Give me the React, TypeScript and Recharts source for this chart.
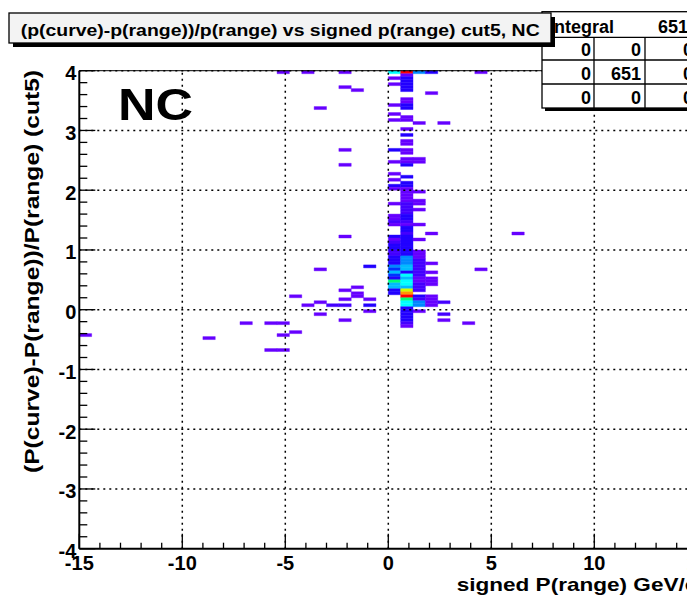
import React from "react";
import {
  ComposedChart, XAxis, YAxis, ReferenceArea, ReferenceLine, Scatter
} from "recharts";

const FONT = '"Liberation Sans", Arial, Helvetica, sans-serif';

// bin sizes of the 2D histogram
const binW = 0.6;
const binH = 0.05;

// [x low edge, y low edge, entries]
const cells: [number, number, number][] = [
  // scattered entries, negative side
  [-15, -0.45, 1], [-9, -0.5, 1], [-7.2, -0.25, 1],
  [-6, -0.25, 1], [-5.4, -0.25, 1], [-5.4, -0.45, 1], [-4.8, -0.4, 1],
  [-6, -0.7, 1], [-5.4, -0.7, 1], [-4.8, 0.2, 1], [-4.2, 0.05, 1],
  [-5.4, 3.95, 1], [-4.2, 3.95, 1], [-2.4, 3.95, 1],
  [-2.4, 3.7, 1], [-1.8, 3.65, 1], [-3.6, 3.35, 1],
  [-2.4, 2.65, 1], [-2.4, 2.4, 1], [-2.4, 1.2, 1],
  [-3.6, 0.65, 1], [-1.2, 0.7, 4],
  [-1.8, 0.35, 1], [-2.4, 0.3, 1], [-1.8, 0.25, 1], [-1.8, 0.2, 1],
  [-2.4, 0.15, 1], [-1.2, 0.15, 1], [-3.6, 0.1, 1],
  [-3, 0.05, 2], [-2.4, 0.05, 3], [-1.2, 0.05, 4],
  [-1.2, -0.05, 1], [-3.6, -0.1, 1], [-2.4, -0.2, 1],
  // column 0.0
  [0, 3.95, 12], [0, 3.85, 1], [0, 3.75, 1], [0, 3.4, 1], [0, 3.25, 1], [0, 3.15, 1],
  [0, 2.65, 4], [0, 2.45, 1], [0, 2.25, 1], [0, 2.15, 1], [0, 2.05, 4], [0, 2.0, 1],
  [0, 1.75, 1], [0, 1.55, 1], [0, 1.5, 1], [0, 1.45, 2], [0, 1.4, 1],
  [0, 1.2, 4], [0, 1.15, 1], [0, 1.1, 2], [0, 1.05, 4], [0, 1.0, 4],
  [0, 0.95, 3], [0, 0.9, 3], [0, 0.85, 4], [0, 0.8, 4], [0, 0.75, 5],
  [0, 0.7, 8], [0, 0.65, 6], [0, 0.6, 10], [0, 0.55, 6], [0, 0.5, 4],
  [0, 0.45, 13], [0, 0.4, 10], [0, 0.35, 9], [0, 0.3, 4], [0, 0.25, 4],
  // column 0.6
  [0.6, 3.95, 18], [0.6, 3.9, 1], [0.6, 3.85, 4], [0.6, 3.8, 4], [0.6, 3.75, 4],
  [0.6, 3.7, 4], [0.6, 3.65, 4], [0.6, 3.5, 1], [0.6, 3.45, 1], [0.6, 3.4, 4],
  [0.6, 3.35, 4], [0.6, 3.2, 1], [0.6, 3.15, 1], [0.6, 3.0, 1], [0.6, 2.9, 4],
  [0.6, 2.8, 1], [0.6, 2.75, 1], [0.6, 2.65, 1], [0.6, 2.6, 1], [0.6, 2.5, 1],
  [0.6, 2.45, 1], [0.6, 2.4, 4], [0.6, 2.2, 4], [0.6, 2.1, 4], [0.6, 2.05, 4],
  [0.6, 2.0, 1], [0.6, 1.95, 1], [0.6, 1.9, 1], [0.6, 1.85, 1], [0.6, 1.8, 1],
  [0.6, 1.75, 3], [0.6, 1.7, 3], [0.6, 1.65, 3], [0.6, 1.6, 3], [0.6, 1.55, 4],
  [0.6, 1.5, 4], [0.6, 1.45, 2], [0.6, 1.4, 1], [0.6, 1.35, 4], [0.6, 1.3, 4],
  [0.6, 1.25, 3], [0.6, 1.2, 4], [0.6, 1.15, 4], [0.6, 1.1, 4], [0.6, 1.05, 4],
  [0.6, 1.0, 5], [0.6, 0.95, 5], [0.6, 0.9, 5], [0.6, 0.85, 8], [0.6, 0.8, 8],
  [0.6, 0.75, 8], [0.6, 0.7, 10], [0.6, 0.65, 10], [0.6, 0.6, 5], [0.6, 0.55, 12],
  [0.6, 0.5, 10], [0.6, 0.45, 12], [0.6, 0.4, 12], [0.6, 0.35, 10], [0.6, 0.3, 15],
  [0.6, 0.25, 16], [0.6, 0.2, 18], [0.6, 0.15, 13], [0.6, 0.1, 12], [0.6, 0.05, 11],
  [0.6, 0, 4], [0.6, -0.05, 4], [0.6, -0.1, 4], [0.6, -0.15, 4], [0.6, -0.2, 4],
  [0.6, -0.25, 3], [0.6, -0.3, 1],
  // column 1.2
  [1.2, 3.95, 8], [1.2, 3.1, 1], [1.2, 2.5, 1], [1.2, 2.45, 1], [1.2, 1.95, 1],
  [1.2, 1.8, 1], [1.2, 1.75, 1], [1.2, 1.65, 1], [1.2, 1.4, 1], [1.2, 1.15, 1],
  [1.2, 0.95, 1], [1.2, 0.9, 1], [1.2, 0.85, 1], [1.2, 0.8, 3], [1.2, 0.75, 3],
  [1.2, 0.7, 2], [1.2, 0.65, 2], [1.2, 0.6, 2], [1.2, 0.55, 2], [1.2, 0.5, 1],
  [1.2, 0.45, 1], [1.2, 0.4, 3], [1.2, 0.35, 3], [1.2, 0.3, 3], [1.2, 0.2, 4],
  [1.2, 0.15, 3], [1.2, 0.1, 8], [1.2, 0.05, 8], [1.2, -0.05, 1],
  // column 1.8
  [1.8, 3.95, 4], [1.8, 3.6, 1], [1.8, 1.25, 1], [1.8, 0.75, 1], [1.8, 0.6, 1],
  [1.8, 0.5, 1], [1.8, 0.45, 1], [1.8, 0.4, 1], [1.8, 0.2, 1], [1.8, 0.15, 1],
  [1.8, 0.1, 1], [1.8, 0.05, 1],
  // positive side
  [2.4, 3.1, 1], [2.4, 0.1, 3], [2.4, -0.1, 3], [2.4, -0.2, 1],
  [3.6, -0.25, 1], [4.2, 0.65, 1], [4.2, 3.95, 1], [6, 1.25, 1],
];

const palette = [
  "#6600ff", "#4400ff", "#2200ff", "#0033ff", "#0088ff", "#00bbff",
  "#00ffff", "#00ff77", "#ccff00", "#ff9900", "#ff0000",
];
const maxCount = 18;
const colorFor = (n: number) =>
  palette[Math.round(((n - 1) / (maxCount - 1)) * (palette.length - 1))];

const xLabels = [-15, -10, -5, 0, 5, 10, 15];
const yLabels = [-4, -3, -2, -1, 0, 1, 2, 3, 4];
const xGrid = [-10, -5, 0, 5, 10];
const yGrid = [-3, -2, -1, 0, 1, 2, 3, 4];

const xTicks: number[] = [];
for (let v = -15; v <= 15; v++) xTicks.push(v);
const yTicks: number[] = [];
for (let k = -20; k <= 20; k++) yTicks.push(Math.round(k * 2) / 10);

const points = cells.map(([x, y, n]) => ({ x: x + binW / 2, y: y + binH / 2, n }));

const XTick = (props: any) => {
  const { x, y, payload } = props;
  const major = xLabels.includes(payload.value);
  return (
    <g>
      <line x1={x} x2={x} y1={y} y2={y - (major ? 15 : 6)} stroke="#000" strokeWidth={1.3} />
      {major && (
        <text x={x} y={y + 21.5} textAnchor="middle" fontFamily={FONT} fontWeight="bold" fontSize={20} fill="#000">
          {payload.value}
        </text>
      )}
    </g>
  );
};

const YTick = (props: any) => {
  const { x, y, payload } = props;
  const major = yLabels.includes(payload.value);
  return (
    <g>
      <line x1={x} x2={x + (major ? 16 : 8)} y1={y} y2={y} stroke="#000" strokeWidth={1.3} />
      {major && (
        <text x={x - 3} y={y + 9.5} textAnchor="end" fontFamily={FONT} fontWeight="bold" fontSize={20} fill="#000">
          {payload.value}
        </text>
      )}
    </g>
  );
};

const txt = { fontFamily: FONT, fontWeight: "bold" as const, fill: "#000" };

export default function App() {
  return (
    <div style={{ position: "fixed", left: 0, top: 0, width: 687, height: 605, overflow: "hidden", background: "#fff" }}>
      <svg width={687} height={605} style={{ position: "absolute", left: 0, top: 0 }}>
        <text x={118} y={120} fontSize={45} textLength={75} lengthAdjust="spacingAndGlyphs" {...txt}>NC</text>
      </svg>
      <div style={{ position: "absolute", left: 0, top: 0 }}>
        <ComposedChart
          width={720}
          height={605}
          data={points}
          margin={{ top: 70.7, right: 22.7, bottom: 0, left: 0 }}
        >
          <XAxis
            type="number" dataKey="x" domain={[-15, 15]} ticks={xTicks} interval={0}
            height={56.3} tickSize={0} tickMargin={0} tickLine={false} tick={<XTick />}
            axisLine={{ stroke: "#000", strokeWidth: 2 }} allowDataOverflow
          />
          <YAxis
            type="number" dataKey="y" domain={[-4, 4]} ticks={yTicks} interval={0}
            width={79.3} tickSize={0} tickMargin={0} tickLine={false} tick={<YTick />}
            axisLine={{ stroke: "#000", strokeWidth: 2 }} allowDataOverflow
          />
          {cells.map(([x, y, n], i) => (
            <ReferenceArea
              key={"c" + i}
              x1={x} x2={x + binW} y1={y} y2={y + binH}
              fill={colorFor(n)} fillOpacity={1}
              stroke={colorFor(n)} strokeWidth={0.4}
            />
          ))}
          <ReferenceLine y={4} stroke="#000" strokeWidth={1} />
          {xGrid.map((v) => (
            <ReferenceLine key={"gx" + v} x={v} stroke="#000" strokeWidth={1.5} strokeDasharray="2 4" />
          ))}
          {yGrid.map((v) => (
            <ReferenceLine key={"gy" + v} y={v} stroke="#000" strokeWidth={1.5} strokeDasharray="2 4" />
          ))}
          <Scatter dataKey="y" isAnimationActive={false} shape={() => <g />} />
        </ComposedChart>
      </div>
      <svg width={687} height={605} style={{ position: "absolute", left: 0, top: 0 }}>
        {/* statistics box */}
        <rect x={545} y={14.7} width={200} height={96.3} fill="#000" />
        <rect x={542} y={11.7} width={200} height={96.3} fill="#fff" stroke="#000" strokeWidth={1.3} />
        <line x1={542} x2={742} y1={37.3} y2={37.3} stroke="#000" strokeWidth={1.3} />
        <line x1={542} x2={742} y1={60} y2={60} stroke="#000" strokeWidth={1.3} />
        <line x1={542} x2={742} y1={84} y2={84} stroke="#000" strokeWidth={1.3} />
        <line x1={594} x2={594} y1={37.3} y2={108} stroke="#000" strokeWidth={1.3} />
        <line x1={645} x2={645} y1={37.3} y2={108} stroke="#000" strokeWidth={1.3} />
        <line x1={697} x2={697} y1={37.3} y2={108} stroke="#000" strokeWidth={1.3} />
        <text x={549} y={33} fontSize={18} {...txt}>Integral</text>
        <text x={688} y={33} fontSize={18} textAnchor="end" {...txt}>651</text>
        <text x={591} y={56} fontSize={18} textAnchor="end" {...txt}>0</text>
        <text x={641} y={56} fontSize={18} textAnchor="end" {...txt}>0</text>
        <text x={693} y={56} fontSize={18} textAnchor="end" {...txt}>0</text>
        <text x={591} y={80} fontSize={18} textAnchor="end" {...txt}>0</text>
        <text x={641} y={80} fontSize={18} textAnchor="end" {...txt}>651</text>
        <text x={693} y={80} fontSize={18} textAnchor="end" {...txt}>0</text>
        <text x={591} y={104} fontSize={18} textAnchor="end" {...txt}>0</text>
        <text x={641} y={104} fontSize={18} textAnchor="end" {...txt}>0</text>
        <text x={693} y={104} fontSize={18} textAnchor="end" {...txt}>0</text>
        {/* title box */}
        <rect x={13} y={17} width={542} height={30} fill="#000" />
        <rect x={9} y={13} width={542} height={30} fill="#f3f3f3" stroke="#000" strokeWidth={1.3} />
        <text x={20.7} y={36} fontSize={16.5} textLength={519} lengthAdjust="spacingAndGlyphs" {...txt}>
          (p(curve)-p(range))/p(range) vs signed p(range) cut5, NC
        </text>
        {/* axis titles */}
        <text x={456.7} y={591} fontSize={19} textLength={240.6} lengthAdjust="spacingAndGlyphs" {...txt}>
          signed P(range) GeV/c
        </text>
        <text
          transform="translate(39,473) rotate(-90)"
          fontSize={21} textLength={403} lengthAdjust="spacingAndGlyphs" {...txt}
        >
          (P(curve)-P(range))/P(range)  (cut5)
        </text>
      </svg>
    </div>
  );
}
